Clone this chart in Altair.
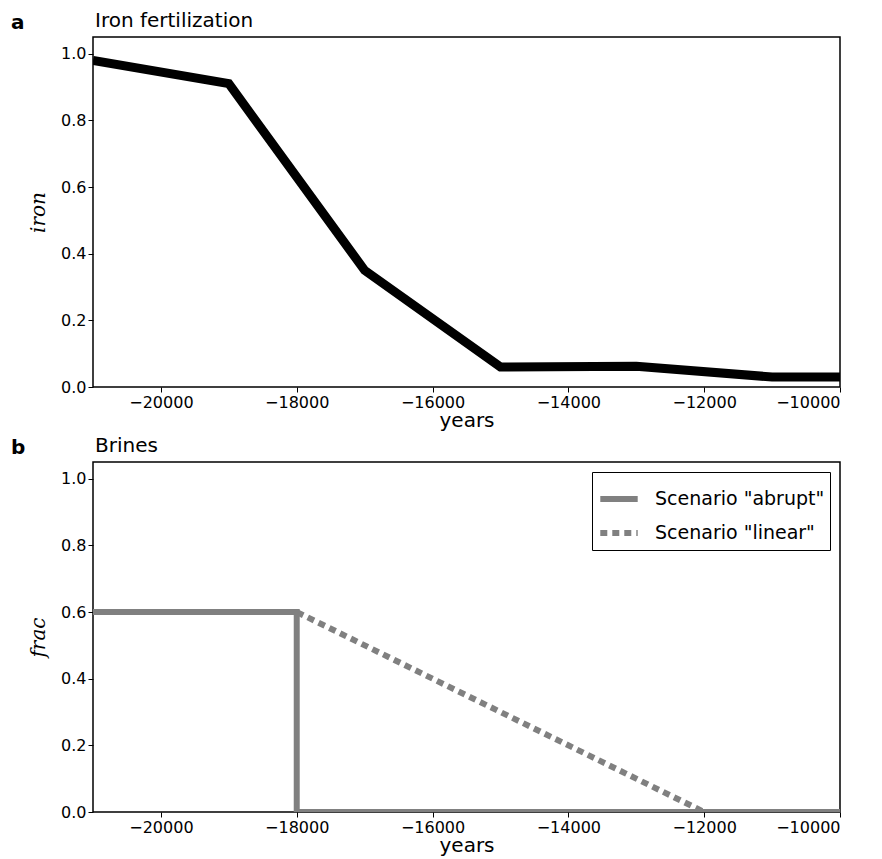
import pandas as pd
import altair as alt

# Iron fertilization
iron_years = [-21000, -19000, -17000, -15000, -13000, -11000, -10000]
iron_vals = [0.98, 0.91, 0.35, 0.06, 0.062, 0.03, 0.03]

# Brines scenarios
abrupt_years = [-21000, -18000, -18000, -10000]
abrupt_vals = [0.6, 0.6, 0.0, 0.0]
linear_years = [-21000, -18000, -12000, -10000]
linear_vals = [0.6, 0.6, 0.0, 0.0]

df_iron = pd.DataFrame({'years': iron_years, 'val': iron_vals, 'o': range(len(iron_years))})
df_b = pd.concat([
    pd.DataFrame({'years': abrupt_years, 'val': abrupt_vals, 'o': range(4),
                  's': 'Scenario "abrupt"'}),
    pd.DataFrame({'years': linear_years, 'val': linear_vals, 'o': range(4),
                  's': 'Scenario "linear"'}),
])

W, H = 747, 350
FONT = "DejaVu Sans"

xax = alt.Axis(values=list(range(-20000, -9999, 2000)), format='d', grid=False,
               labelFontSize=16, titleFontSize=20, titleFontWeight='normal', titlePadding=0,
               tickSize=5, labelColor='black', tickColor='black', domain=False)
def yax(t):
    return alt.Axis(values=[0, 0.2, 0.4, 0.6, 0.8, 1.0], format='.1f', grid=False,
                    labelFontSize=16, title=t, titleFont='DejaVu Serif',
                    titleFontStyle='italic', titleFontWeight='normal', titleFontSize=20,
                    titlePadding=12, tickSize=5, labelColor='black', tickColor='black',
                    domain=False)

xs = alt.Scale(domain=[-21000, -10000], nice=False, zero=False)
ys = alt.Scale(domain=[0, 1.05], nice=False)

def heading(letter_txt, title_txt):
    a = alt.Chart(pd.DataFrame({'t': [letter_txt]})).mark_text(
        font=FONT, fontSize=20, fontWeight='bold', align='left', baseline='alphabetic').encode(
        x=alt.value(-82), y=alt.value(-8), text='t:N')
    b = alt.Chart(pd.DataFrame({'t': [title_txt]})).mark_text(
        font=FONT, fontSize=20, align='left', baseline='alphabetic').encode(
        x=alt.value(2), y=alt.value(-10), text='t:N')
    return a + b

top = alt.layer(
    alt.Chart(df_iron).mark_line(color='black', strokeWidth=9, clip=True).encode(
        x=alt.X('years:Q', scale=xs, axis=xax, title='years'),
        y=alt.Y('val:Q', scale=ys, axis=yax('iron')),
        order='o:Q'),
    heading('a', 'Iron fertilization'),
).properties(width=W, height=H)

bottom = alt.layer(
    alt.Chart(df_b).mark_line(strokeWidth=6, color='gray', clip=True).encode(
        x=alt.X('years:Q', scale=xs, axis=xax, title='years'),
        y=alt.Y('val:Q', scale=ys, axis=yax('frac')),
        strokeDash=alt.StrokeDash('s:N', scale=alt.Scale(
            domain=['Scenario "abrupt"', 'Scenario "linear"'], range=[[1, 0], [7, 5]]),
            legend=alt.Legend(title=None, orient='top-right', labelFontSize=19,
                              symbolType='stroke', symbolSize=1400, symbolStrokeWidth=6,
                              symbolStrokeColor='gray', strokeColor='black',
                              fillColor='white', padding=5, offset=10, labelLimit=400,
                              rowPadding=0, labelColor='black', labelOffset=14)),
        detail='s:N',
        order='o:Q'),
    heading('b', 'Brines'),
).properties(width=W, height=H)

chart = alt.vconcat(top, bottom, spacing=4).resolve_legend(
    strokeDash='independent').resolve_scale(strokeDash='independent').properties(
    padding={'left': 2, 'top': 2, 'right': 2, 'bottom': 0}).configure(
    font=FONT).configure_view(stroke='black', strokeWidth=1.5)

chart.save("out.html", embed_options={"renderer": "svg", "actions": False})
